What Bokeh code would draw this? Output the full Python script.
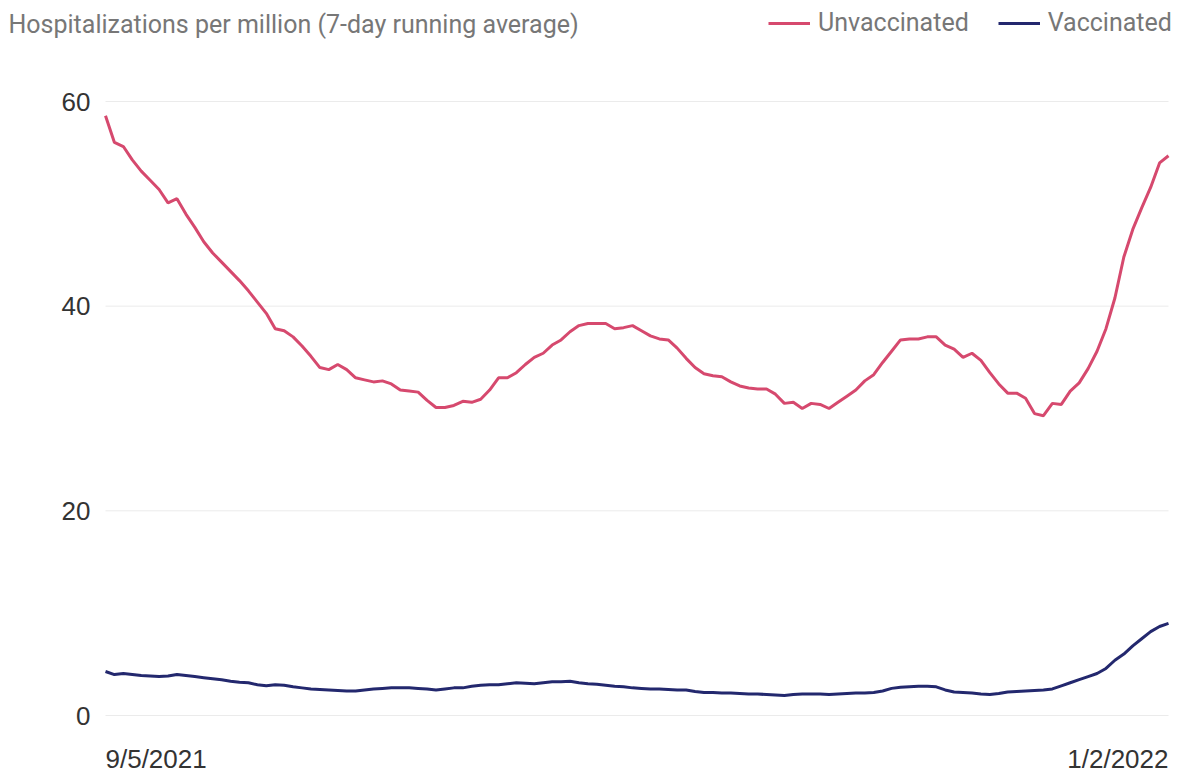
import pandas as pd
from bokeh.plotting import figure
from bokeh.models import Range1d, Label, Legend, LegendItem, ColumnDataSource
from bokeh.core.properties import value
from bokeh.embed import file_html
from bokeh.resources import INLINE

start_date = "2021-09-05"
end_date = "2022-01-02"
dates = pd.date_range(start_date, end_date, freq="D")
first_label = "9/5/2021"
last_label = "1/2/2022"

unvaccinated = [
    58.6, 56.0, 55.6, 54.3, 53.2, 52.3, 51.4, 50.1, 50.5, 49.0,
    47.7, 46.3, 45.2, 44.3, 43.4, 42.5, 41.5, 40.4, 39.3, 37.8,
    37.6, 37.0, 36.1, 35.1, 34.0, 33.8, 34.3, 33.8, 33.0, 32.8,
    32.6, 32.7, 32.4, 31.8, 31.7, 31.6, 30.8, 30.1, 30.1, 30.3,
    30.7, 30.6, 30.9, 31.8, 33.0, 33.0, 33.5, 34.3, 35.0, 35.4,
    36.2, 36.7, 37.5, 38.1, 38.3, 38.3, 38.3, 37.8, 37.9, 38.1,
    37.6, 37.1, 36.8, 36.7, 35.9, 34.9, 34.0, 33.4, 33.2, 33.1,
    32.6, 32.2, 32.0, 31.9, 31.9, 31.4, 30.5, 30.6, 30.0, 30.5,
    30.4, 30.0, 30.6, 31.2, 31.8, 32.7, 33.3, 34.5, 35.6, 36.7,
    36.8, 36.8, 37.0, 37.0, 36.2, 35.8, 35.0, 35.4, 34.7, 33.5,
    32.4, 31.5, 31.5, 31.0, 29.5, 29.3, 30.5, 30.4, 31.7, 32.5,
    33.9, 35.6, 37.8, 40.8, 44.8, 47.5, 49.6, 51.6, 54.0, 54.7,
]

vaccinated = [
    4.3, 4.0, 4.1, 4.0, 3.9, 3.85, 3.8, 3.85, 4.0, 3.9,
    3.8, 3.7, 3.6, 3.5, 3.35, 3.25, 3.2, 3.0, 2.9, 3.0,
    2.95, 2.8, 2.7, 2.6, 2.55, 2.5, 2.45, 2.4, 2.4, 2.5,
    2.6, 2.65, 2.7, 2.7, 2.7, 2.65, 2.6, 2.5, 2.6, 2.7,
    2.7, 2.85, 2.95, 3.0, 3.0, 3.1, 3.2, 3.15, 3.1, 3.2,
    3.3, 3.3, 3.35, 3.2, 3.1, 3.05, 2.95, 2.85, 2.8, 2.7,
    2.65, 2.6, 2.6, 2.55, 2.5, 2.5, 2.35, 2.25, 2.25, 2.2,
    2.2, 2.15, 2.1, 2.1, 2.05, 2.0, 1.95, 2.05, 2.1, 2.1,
    2.1, 2.05, 2.1, 2.15, 2.2, 2.2, 2.25, 2.4, 2.65, 2.75,
    2.8, 2.85, 2.85, 2.8, 2.5, 2.3, 2.25, 2.2, 2.1, 2.05,
    2.15, 2.3, 2.35, 2.4, 2.45, 2.5, 2.6, 2.9, 3.2, 3.5,
    3.8, 4.1, 4.6, 5.4, 6.0, 6.8, 7.5, 8.2, 8.7, 9.0,
]

y_ticks = [0, 20, 40, 60]
title_text = "Hospitalizations per million (7-day running average)"
series_names = ["Unvaccinated", "Vaccinated"]
colors = ["#d6496e", "#23286e"]

W, H = 1179, 772
# plot area in page pixels
area_left, area_right = 105, 1168
py_top_tick, py_zero = 101, 715

ppu = (py_zero - py_top_tick) / 60.0
ms0 = dates[0].value / 1e6
ms1 = dates[-1].value / 1e6
ms_per_px = (ms1 - ms0) / (area_right - area_left)

p = figure(width=W, height=H, x_axis_type="datetime",
           x_axis_location=None, y_axis_location=None,
           output_backend="svg", toolbar_location=None,
           min_border=0)
p.x_range = Range1d(ms0 - area_left * ms_per_px, ms1 + (W - area_right) * ms_per_px)
p.y_range = Range1d(-(H - py_zero) / ppu, 60 + py_top_tick / ppu)
p.outline_line_color = None
p.background_fill_color = "white"
p.border_fill_color = "white"
p.grid.visible = False

# grid lines at the y ticks, spanning the date range
grid_src = ColumnDataSource(dict(x0=[dates[0]] * len(y_ticks),
                                 x1=[dates[-1]] * len(y_ticks),
                                 y=y_ticks,
                                 label=[str(t) for t in y_ticks]))
p.segment(x0="x0", x1="x1", y0="y", y1="y", source=grid_src,
          line_color="#ebebeb", line_width=1)
p.text(x="x0", y="y", text="label", source=grid_src,
       x_offset=-15, text_align="right", text_baseline="middle",
       text_font=value("Liberation Sans"), text_font_size="26px",
       text_color="#333333")

r1 = p.line(dates, unvaccinated, line_color=colors[0], line_width=3)
r2 = p.line(dates, vaccinated, line_color=colors[1], line_width=3)

legend = Legend(items=[LegendItem(label=series_names[0], renderers=[r1]),
                       LegendItem(label=series_names[1], renderers=[r2])],
                orientation="horizontal",
                location=(768, H - 37),
                glyph_width=42, glyph_height=24, label_height=24,
                label_standoff=8, spacing=29, padding=0, margin=0,
                border_line_color=None, background_fill_alpha=0,
                label_text_font="Roboto", label_text_font_size="25px",
                label_text_color="#777777")
p.add_layout(legend, "center")

# title at top-left
p.add_layout(Label(x=ms0 + (8 - area_left) * ms_per_px,
                   y=60 + (py_top_tick - 24) / ppu,
                   text=title_text, text_font="Roboto",
                   text_font_size="25px", text_color="#777777",
                   text_align="left", text_baseline="middle"))

# x end labels
ly = -(758 - py_zero) / ppu
p.add_layout(Label(x=ms0, y=ly, text=first_label, text_font="Liberation Sans",
                   text_font_size="26px", text_color="#333333",
                   text_align="left", text_baseline="middle"))
p.add_layout(Label(x=ms1, y=ly, text=last_label, text_font="Liberation Sans",
                   text_font_size="26px", text_color="#333333",
                   text_align="right", text_baseline="middle"))

open("out.html", "w").write(file_html(p, INLINE))
